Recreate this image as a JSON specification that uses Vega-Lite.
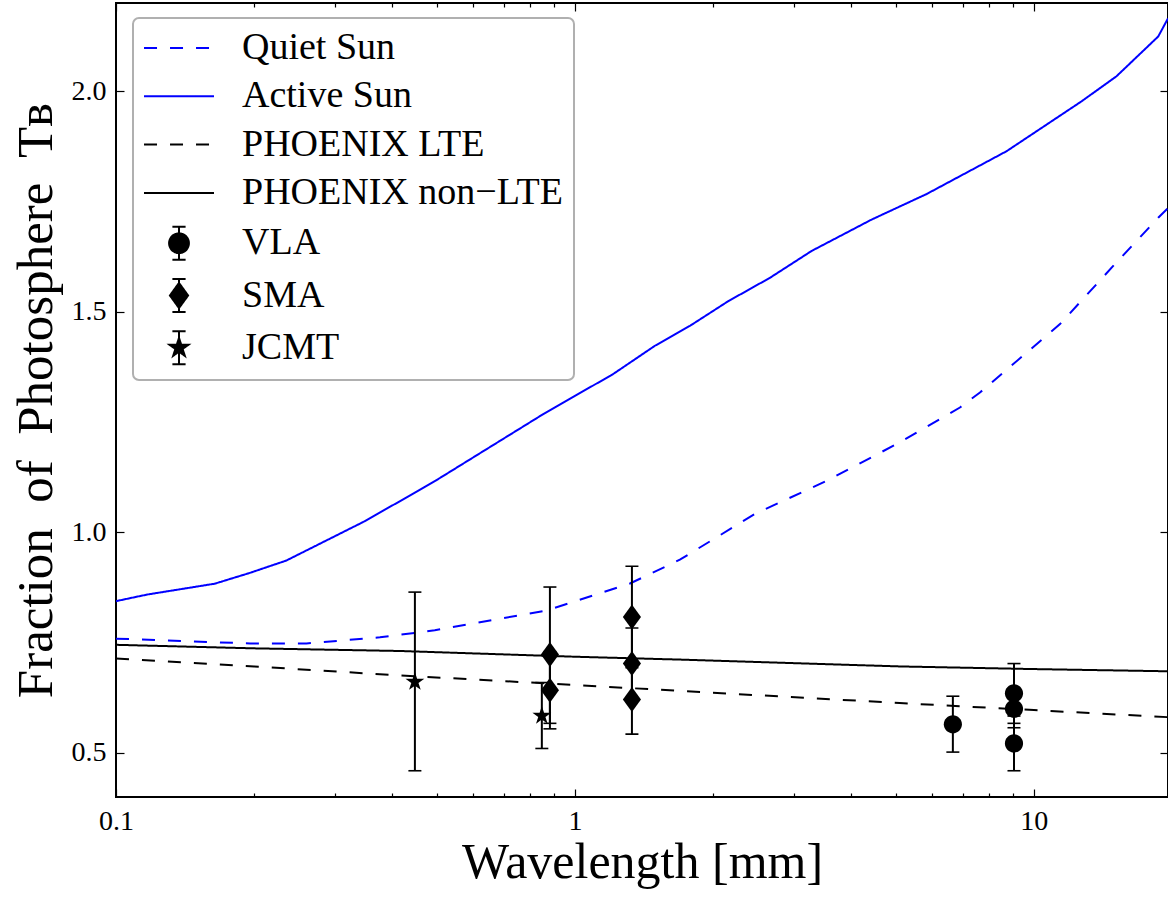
{
  "$schema": "https://vega.github.io/schema/vega-lite/v6.json",
  "width": 1052,
  "height": 794,
  "autosize": {"type": "none"},
  "padding": {"left": 116, "top": 3, "right": 0, "bottom": 100},
  "background": "white",
  "config": {
    "view": {"stroke": "black", "strokeWidth": 2},
    "axis": {
      "labelFont": "Liberation Serif",
      "titleFont": "Liberation Serif",
      "labelColor": "black",
      "titleColor": "black",
      "tickColor": "black",
      "tickWidth": 1.2,
      "domain": false,
      "grid": false,
      "titleFontWeight": "normal",
      "labelFontSize": 28,
      "titleFontSize": 50,
      "labelFlush": false,
      "labelOverlap": false,
      "labelBound": false
    }
  },
  "datasets": {
    "lines": [
      {"series": "Quiet Sun", "wl": 0.1, "v": 0.759},
      {"series": "Quiet Sun", "wl": 0.196, "v": 0.748},
      {"series": "Quiet Sun", "wl": 0.26, "v": 0.748},
      {"series": "Quiet Sun", "wl": 0.376, "v": 0.762},
      {"series": "Quiet Sun", "wl": 0.495, "v": 0.778},
      {"series": "Quiet Sun", "wl": 0.868, "v": 0.823},
      {"series": "Quiet Sun", "wl": 1.318, "v": 0.884},
      {"series": "Quiet Sun", "wl": 1.693, "v": 0.938},
      {"series": "Quiet Sun", "wl": 2.47, "v": 1.042},
      {"series": "Quiet Sun", "wl": 3.54, "v": 1.117},
      {"series": "Quiet Sun", "wl": 5.02, "v": 1.2},
      {"series": "Quiet Sun", "wl": 6.9, "v": 1.283},
      {"series": "Quiet Sun", "wl": 7.63, "v": 1.317},
      {"series": "Quiet Sun", "wl": 11.4, "v": 1.472},
      {"series": "Quiet Sun", "wl": 14.89, "v": 1.604},
      {"series": "Quiet Sun", "wl": 18.66, "v": 1.713},
      {"series": "Quiet Sun", "wl": 19.6, "v": 1.735},
      {"series": "Active Sun", "wl": 0.1, "v": 0.844},
      {"series": "Active Sun", "wl": 0.117, "v": 0.859},
      {"series": "Active Sun", "wl": 0.164, "v": 0.8835},
      {"series": "Active Sun", "wl": 0.195, "v": 0.9075},
      {"series": "Active Sun", "wl": 0.235, "v": 0.936},
      {"series": "Active Sun", "wl": 0.345, "v": 1.023},
      {"series": "Active Sun", "wl": 0.45, "v": 1.091},
      {"series": "Active Sun", "wl": 0.504, "v": 1.121},
      {"series": "Active Sun", "wl": 0.853, "v": 1.268},
      {"series": "Active Sun", "wl": 1.212, "v": 1.359},
      {"series": "Active Sun", "wl": 1.494, "v": 1.423},
      {"series": "Active Sun", "wl": 1.78, "v": 1.468},
      {"series": "Active Sun", "wl": 2.158, "v": 1.524},
      {"series": "Active Sun", "wl": 2.66, "v": 1.577},
      {"series": "Active Sun", "wl": 3.28, "v": 1.638},
      {"series": "Active Sun", "wl": 4.43, "v": 1.709},
      {"series": "Active Sun", "wl": 5.84, "v": 1.767},
      {"series": "Active Sun", "wl": 8.72, "v": 1.864},
      {"series": "Active Sun", "wl": 12.7, "v": 1.977},
      {"series": "Active Sun", "wl": 15.14, "v": 2.034},
      {"series": "Active Sun", "wl": 18.66, "v": 2.124},
      {"series": "Active Sun", "wl": 19.6, "v": 2.165},
      {"series": "PHOENIX LTE", "wl": 0.1, "v": 0.714},
      {"series": "PHOENIX LTE", "wl": 0.2, "v": 0.696},
      {"series": "PHOENIX LTE", "wl": 0.416, "v": 0.6755},
      {"series": "PHOENIX LTE", "wl": 1, "v": 0.654},
      {"series": "PHOENIX LTE", "wl": 1.693, "v": 0.6405},
      {"series": "PHOENIX LTE", "wl": 5.1, "v": 0.613},
      {"series": "PHOENIX LTE", "wl": 10, "v": 0.597},
      {"series": "PHOENIX LTE", "wl": 19.6, "v": 0.581},
      {"series": "PHOENIX non−LTE", "wl": 0.1, "v": 0.745},
      {"series": "PHOENIX non−LTE", "wl": 0.2, "v": 0.737},
      {"series": "PHOENIX non−LTE", "wl": 0.416, "v": 0.731},
      {"series": "PHOENIX non−LTE", "wl": 1, "v": 0.718},
      {"series": "PHOENIX non−LTE", "wl": 1.693, "v": 0.7115},
      {"series": "PHOENIX non−LTE", "wl": 5.1, "v": 0.696},
      {"series": "PHOENIX non−LTE", "wl": 10, "v": 0.69},
      {"series": "PHOENIX non−LTE", "wl": 19.6, "v": 0.685}
    ],
    "obs": [
      {"series": "JCMT", "wl": 0.448, "v": 0.661, "lo": 0.4595, "hi": 0.8645},
      {"series": "JCMT", "wl": 0.847, "v": 0.584, "lo": 0.51, "hi": 0.6595},
      {"series": "SMA", "wl": 0.882, "v": 0.723, "lo": 0.567, "hi": 0.876},
      {"series": "SMA", "wl": 0.882, "v": 0.642, "lo": 0.5545, "hi": 0.7295},
      {"series": "SMA", "wl": 1.331, "v": 0.808, "lo": 0.693, "hi": 0.923},
      {"series": "SMA", "wl": 1.331, "v": 0.7025, "lo": 0.622, "hi": 0.783},
      {"series": "SMA", "wl": 1.331, "v": 0.621, "lo": 0.5425, "hi": 0.7},
      {"series": "VLA", "wl": 6.66, "v": 0.565, "lo": 0.5018, "hi": 0.6285},
      {"series": "VLA", "wl": 9.05, "v": 0.635, "lo": 0.567, "hi": 0.7025},
      {"series": "VLA", "wl": 9.05, "v": 0.6, "lo": 0.557, "hi": 0.643},
      {"series": "VLA", "wl": 9.05, "v": 0.5215, "lo": 0.4595, "hi": 0.5835}
    ]
  },
  "resolve": {"axis": {"x": "independent", "y": "independent"}},
  "layer": [
    {
      "data": {"name": "lines"},
      "mark": {"type": "line", "strokeWidth": 2, "clip": true},
      "encoding": {
        "x": {"field": "wl", "type": "quantitative",
          "scale": {"type": "log", "domain": [0.1, 19.6], "nice": false},
          "axis": {"orient": "bottom", "values": [0.1, 1, 10], "format": "~g", "tickSize": -8, "labelPadding": 18, "title": "Wavelength [mm]", "titlePadding": 2}},
        "y": {"field": "v", "type": "quantitative",
          "scale": {"domain": [0.4, 2.2], "nice": false, "zero": false},
          "axis": {"orient": "left", "values": [0.5, 1, 1.5, 2], "format": ".1f", "tickSize": -8, "labelPadding": 18, "title": "Fraction\u00a0 of\u00a0 Photosphere\u00a0 Tʙ", "titleFontSize": 51, "titlePadding": 9}},
        "color": {"field": "series", "type": "nominal",
          "scale": {"domain": ["Quiet Sun", "Active Sun", "PHOENIX LTE", "PHOENIX non−LTE", "VLA", "SMA", "JCMT"],
                    "range": ["#0000ff", "#0000ff", "black", "black", "black", "black", "black"]},
          "legend": {
            "orient": "none", "legendX": 17, "legendY": 15,
            "title": null,
            "symbolSize": 1089,
            "symbolType": "stroke",
            "symbolStrokeWidth": 2,
            "labelFont": "Liberation Serif", "labelFontSize": 38, "labelColor": "black",
            "labelOffset": 60, "rowPadding": 10.3, "padding": 11,
            "labelLimit": 0,
            "strokeColor": "#b0b0b0", "fillColor": "white", "cornerRadius": 6,
            "encode": {
              "legend": {"update": {"strokeWidth": {"value": 2}}},
              "symbols": {
                "update": {
                  "x": {"value": 35},
                  "shape": {"signal": "datum.value === 'VLA' ? 'M-0.6,0A0.6,0.6,0,1,1,0.6,0A0.6,0.6,0,1,1,-0.6,0ZM0,-1L0,1M-0.4,-1L0.4,-1M-0.4,1L0.4,1' : datum.value === 'SMA' ? 'M0,-0.76L0.55,0L0,0.76L-0.55,0ZM0,-1L0,1M-0.4,-1L0.4,-1M-0.4,1L0.4,1' : datum.value === 'JCMT' ? 'M0,-0.6L0.135,-0.185L0.571,-0.185L0.218,0.071L0.353,0.485L0,0.229L-0.353,0.485L-0.218,0.071L-0.571,-0.185L-0.135,-0.185ZM0,-1L0,1M-0.4,-1L0.4,-1M-0.4,1L0.4,1' : 'M-2.12,0L2.12,0'"},
                  "size": {"value": 1089},
                  "fill": {"signal": "indexof(['VLA','SMA','JCMT'], datum.value) >= 0 ? 'black' : 'transparent'"},
                  "stroke": {"signal": "indexof(['Quiet Sun','Active Sun'], datum.value) >= 0 ? '#0000ff' : 'black'"},
                  "strokeDash": {"signal": "indexof(['Quiet Sun','PHOENIX LTE'], datum.value) >= 0 ? [13,13] : [1,0]"},
                  "strokeWidth": {"value": 2},
                  "opacity": {"value": 1}
                }
              }
            }
          }},
        "strokeDash": {"field": "series", "type": "nominal",
          "scale": {"domain": ["Quiet Sun", "Active Sun", "PHOENIX LTE", "PHOENIX non−LTE"], "range": [[13, 13], [1, 0], [13, 13], [1, 0]]},
          "legend": null}
      }
    },
    {
      "data": {"name": "obs"},
      "mark": {"type": "rule", "color": "black", "strokeWidth": 2},
      "encoding": {
        "x": {"field": "wl", "type": "quantitative",
          "scale": {"type": "log", "domain": [0.1, 19.6], "nice": false},
          "axis": {"orient": "bottom", "values": [0.2, 0.3, 0.4, 0.5, 0.6, 0.7, 0.8, 0.9, 2, 3, 4, 5, 6, 7, 8, 9], "tickSize": -4, "labels": false, "title": null}},
        "y": {"field": "lo", "type": "quantitative",
          "scale": {"domain": [0.4, 2.2], "nice": false, "zero": false},
          "axis": {"orient": "right", "values": [0.5, 1, 1.5, 2], "tickSize": -8, "labels": false, "title": null}},
        "y2": {"field": "hi"}
      }
    },
    {
      "data": {"name": "obs"},
      "mark": {"type": "tick", "orient": "horizontal", "color": "black", "opacity": 1, "size": 13, "thickness": 1.6},
      "encoding": {
        "x": {"field": "wl", "type": "quantitative",
          "scale": {"type": "log", "domain": [0.1, 19.6], "nice": false},
          "axis": {"orient": "top", "values": [0.1, 1, 10], "tickSize": -8, "labels": false, "title": null}},
        "y": {"field": "lo", "type": "quantitative",
          "scale": {"domain": [0.4, 2.2], "nice": false, "zero": false}, "axis": null}
      }
    },
    {
      "data": {"name": "obs"},
      "mark": {"type": "tick", "orient": "horizontal", "color": "black", "opacity": 1, "size": 13, "thickness": 1.6},
      "encoding": {
        "x": {"field": "wl", "type": "quantitative",
          "scale": {"type": "log", "domain": [0.1, 19.6], "nice": false},
          "axis": {"orient": "top", "values": [0.2, 0.3, 0.4, 0.5, 0.6, 0.7, 0.8, 0.9, 2, 3, 4, 5, 6, 7, 8, 9], "tickSize": -4, "labels": false, "title": null}},
        "y": {"field": "hi", "type": "quantitative",
          "scale": {"domain": [0.4, 2.2], "nice": false, "zero": false}, "axis": null}
      }
    },
    {
      "data": {"name": "obs"},
      "mark": {"type": "point", "filled": true, "color": "black", "opacity": 1, "size": 1089, "strokeWidth": 0},
      "encoding": {
        "x": {"field": "wl", "type": "quantitative",
          "scale": {"type": "log", "domain": [0.1, 19.6], "nice": false}, "axis": null},
        "y": {"field": "v", "type": "quantitative",
          "scale": {"domain": [0.4, 2.2], "nice": false, "zero": false}, "axis": null},
        "shape": {"field": "series", "type": "nominal",
          "scale": {"domain": ["VLA", "SMA", "JCMT"],
                    "range": ["M-0.55,0A0.55,0.55,0,1,1,0.55,0A0.55,0.55,0,1,1,-0.55,0Z", "M0,-0.76L0.55,0L0,0.76L-0.55,0Z", "M0,-0.6L0.135,-0.185L0.571,-0.185L0.218,0.071L0.353,0.485L0,0.229L-0.353,0.485L-0.218,0.071L-0.571,-0.185L-0.135,-0.185Z"]},
          "legend": null}
      }
    }
  ]
}
